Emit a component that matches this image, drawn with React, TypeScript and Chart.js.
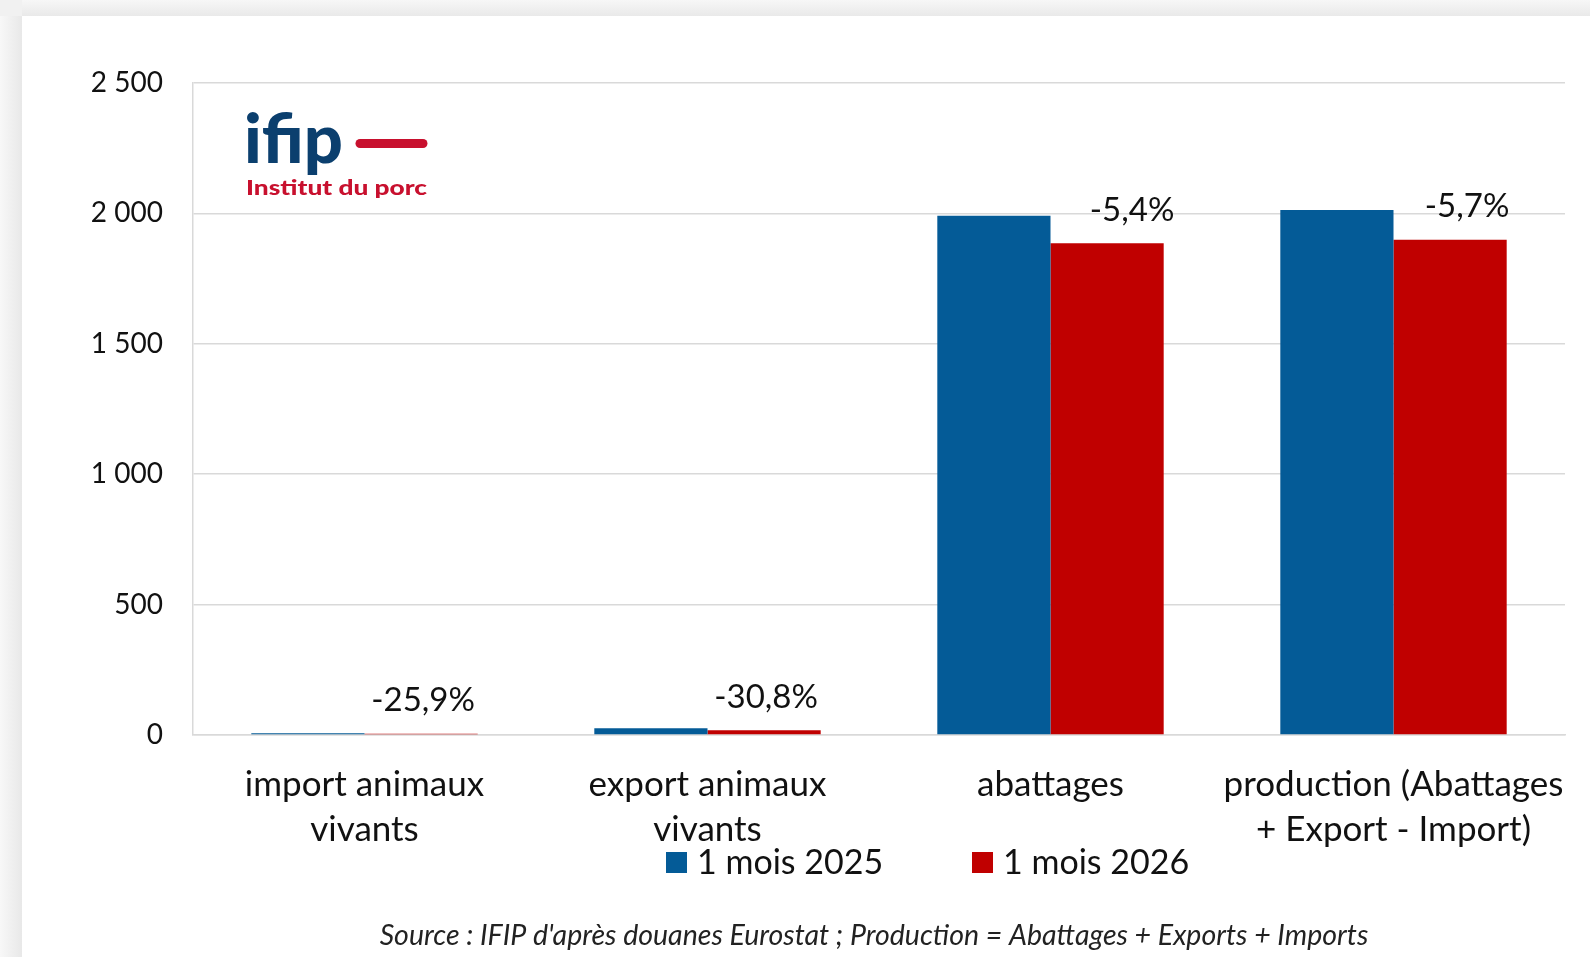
import React, { useEffect, useRef } from "react";
import { Chart, registerables } from "chart.js";

Chart.register(...registerables);

// ---- data ----
const categories: (string | string[])[] = [
  ["import animaux", "vivants"],
  ["export animaux", "vivants"],
  "abattages",
  ["production (Abattages", "+ Export - Import)"],
];
const series2025 = [7, 26, 1991, 2013];
const series2026 = [5, 18, 1886, 1899];
const changeLabels = ["-25,9%", "-30,8%", "-5,4%", "-5,7%"];
const seriesNames = ["1 mois 2025", "1 mois 2026"];
const yMax = 2500;
const yStep = 500;
const sourceText =
  "Source : IFIP d'après douanes Eurostat ; Production = Abattages + Exports + Imports";

// ---- style ----
const BLUE = "#045B97";
const RED = "#C00000";
const GRID = "#d9d9d9";
const FONT = "Lato, 'Noto Sans', sans-serif";
const W = 1590;
const H = 957;
const labelDx = [2, 2, 25, 17];

function fmt(v: number) {
  return String(v).replace(/\B(?=(\d{3})+(?!\d))/g, " ");
}

const backgroundPlugin = {
  id: "bgPanel",
  beforeDraw(chart: any) {
    const ctx = chart.ctx;
    ctx.save();
    ctx.fillStyle = "#f1f1f1";
    ctx.fillRect(0, 0, W, H);
    const gt = ctx.createLinearGradient(0, 0, 0, 16);
    gt.addColorStop(0, "#f7f7f7");
    gt.addColorStop(1, "#e9e9e9");
    ctx.fillStyle = gt;
    ctx.fillRect(22, 0, W - 22, 16);
    const gl = ctx.createLinearGradient(0, 0, 22, 0);
    gl.addColorStop(0, "#f8f8f8");
    gl.addColorStop(1, "#e8e8e8");
    ctx.fillStyle = gl;
    ctx.fillRect(0, 16, 22, H - 16);
    ctx.fillStyle = "#ffffff";
    ctx.fillRect(22, 16, W - 22, H - 16);
    ctx.restore();
  },
};

function fitText(ctx: any, text: string, x: number, y: number, width: number) {
  const m = ctx.measureText(text).width;
  ctx.save();
  ctx.translate(x, y);
  ctx.scale(width / m, 1);
  ctx.fillText(text, 0, 0);
  ctx.restore();
}

const decorPlugin = {
  id: "decor",
  afterDraw(chart: any) {
    const ctx = chart.ctx;
    ctx.save();
    // logo
    ctx.textAlign = "left";
    ctx.textBaseline = "alphabetic";
    ctx.fillStyle = "#0B3F6E";
    ctx.font = `900 68px ${FONT}`;
    fitText(ctx, "ifip", 244, 163, 99);
    ctx.strokeStyle = "#C8102E";
    ctx.lineWidth = 9;
    ctx.lineCap = "round";
    ctx.beginPath();
    ctx.moveTo(360, 143.5);
    ctx.lineTo(423, 143.5);
    ctx.stroke();
    ctx.fillStyle = "#C8102E";
    ctx.font = `900 21px ${FONT}`;
    fitText(ctx, "Institut du porc", 246, 195, 181);

    // data labels
    const meta = chart.getDatasetMeta(1);
    ctx.fillStyle = "#111";
    ctx.font = `33px ${FONT}`;
    ctx.textAlign = "center";
    ctx.textBaseline = "middle";
    meta.data.forEach((el: any, i: number) => {
      ctx.fillText(changeLabels[i], el.x + labelDx[i], el.y - 33);
    });

    // legend
    const colors = [BLUE, RED];
    const lx = [666, 972];
    ctx.font = `34px ${FONT}`;
    ctx.textAlign = "left";
    ctx.textBaseline = "middle";
    seriesNames.forEach((n, i) => {
      ctx.fillStyle = colors[i];
      ctx.fillRect(lx[i], 852, 21, 21);
      ctx.fillStyle = "#111";
      ctx.fillText(n, lx[i] + 31, 863);
    });

    // source
    ctx.font = `italic 28.5px ${FONT}`;
    ctx.textAlign = "center";
    ctx.fillStyle = "#222";
    ctx.fillText(sourceText, 874, 936);
    ctx.restore();
  },
};

export default function App() {
  const ref = useRef<HTMLCanvasElement | null>(null);
  useEffect(() => {
    if (!ref.current) return;
    const chart = new Chart(ref.current, {
      type: "bar",
      data: {
        labels: categories as any,
        datasets: [
          {
            label: seriesNames[0],
            data: series2025,
            backgroundColor: BLUE,
            borderWidth: 0,
          },
          {
            label: seriesNames[1],
            data: series2026,
            backgroundColor: RED,
            borderWidth: 0,
          },
        ],
      },
      options: {
        responsive: false,
        animation: false,
        devicePixelRatio: 1,
        layout: { padding: { left: 73, top: 83, right: 25, bottom: 0 } },
        datasets: {
          bar: { barPercentage: 1, categoryPercentage: 0.66 },
        },
        plugins: {
          legend: { display: false },
          tooltip: { enabled: false },
        },
        scales: {
          x: {
            grid: { display: false, drawTicks: false },
            border: { display: true, color: GRID, width: 1.5 },
            ticks: {
              color: "#111",
              font: { family: FONT, size: 35, lineHeight: 1.29 },
              padding: 27,
              maxRotation: 0,
              autoSkip: false,
            },
            afterFit: (s: any) => {
              s.height = 222;
              s.paddingLeft = 0;
              s.paddingRight = 0;
            },
          },
          y: {
            min: 0,
            max: yMax,
            grid: { color: GRID, lineWidth: 1.5, drawTicks: false },
            border: { display: true, color: GRID, width: 1.5 },
            ticks: {
              stepSize: yStep,
              color: "#111",
              font: { family: FONT, size: 28 },
              padding: 30,
              callback: (v: any) => fmt(Number(v)),
            },
            afterFit: (s: any) => {
              s.width = 120;
              s.paddingTop = 0;
              s.paddingBottom = 0;
            },
          },
        },
      },
      plugins: [backgroundPlugin, decorPlugin],
    });
    return () => chart.destroy();
  }, []);
  return (
    <div style={{ position: "fixed", left: 0, top: 0, width: W, height: H }}>
      <canvas ref={ref} width={W} height={H} style={{ display: "block" }} />
    </div>
  );
}
